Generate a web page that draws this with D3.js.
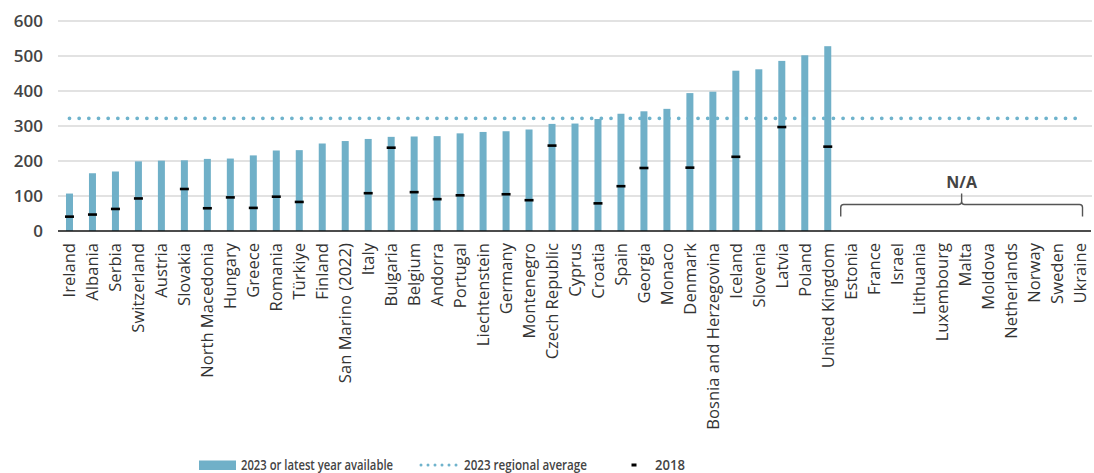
<!DOCTYPE html>
<html>
<head>
<meta charset="utf-8">
<script src="https://cdn.jsdelivr.net/npm/d3@7"></script>
<style>
  html, body { margin: 0; padding: 0; background: #fff; }
  svg { display: block; }
  text { font-family: "Open Sans", "Noto Sans", sans-serif; }
</style>
</head>
<body>
<svg id="chart" width="1094" height="473"></svg>
<script>
const categories = ["Ireland","Albania","Serbia","Switzerland","Austria","Slovakia","North Macedonia","Hungary","Greece","Romania","Türkiye","Finland","San Marino (2022)","Italy","Bulgaria","Belgium","Andorra","Portugal","Liechtenstein","Germany","Montenegro","Czech Republic","Cyprus","Croatia","Spain","Georgia","Monaco","Denmark","Bosnia and Herzegovina","Iceland","Slovenia","Latvia","Poland","United Kingdom","Estonia","France","Israel","Lithuania","Luxembourg","Malta","Moldova","Netherlands","Norway","Sweden","Ukraine"];
const values2023 = [107,165,170,199,201,202,206,207,216,230,231,250,257,263,269,270,271,279,283,285,290,306,307,320,335,342,349,394,398,458,462,486,502,528,null,null,null,null,null,null,null,null,null,null,null];
const values2018 = [41,47,63,93,null,120,65,96,66,98,83,null,null,108,238,111,91,102,null,105,88,244,null,79,128,180,null,181,null,212,null,297,null,241,null,null,null,null,null,null,null,null,null,null,null];
const regionalAverage = 322;
const yTicks = [0,100,200,300,400,500,600];
const naCategories = ["Estonia","Ukraine"];
const naLabel = "N/A";
const legendLabels = ["2023 or latest year available","2023 regional average","2018"];

const barColor = "#70b0c8";
const dotColor = "#6fb3cc";
const svg = d3.select("#chart");

const x = d3.scaleBand().domain(categories).range([58, 1092]).padding(0);
const y = d3.scaleLinear().domain([0, 600]).range([231, 21]);
const cx = d => x(d) + x.bandwidth() / 2;
const barW = 7;

// gridlines
svg.append("g").selectAll("line").data(yTicks.filter(t => t > 0)).join("line")
  .attr("x1", 58).attr("x2", 1092)
  .attr("y1", d => y(d)).attr("y2", d => y(d))
  .attr("stroke", "#d9d9d9").attr("stroke-width", 1.6);

// y axis labels
const yAxis = svg.append("g").attr("transform", "translate(58,0)")
  .call(d3.axisLeft(y).tickValues(yTicks).tickSize(0).tickPadding(15));
yAxis.select(".domain").remove();
yAxis.selectAll("text")
  .style("font-family", "'Open Sans', sans-serif")
  .style("font-size", "17px").style("font-weight", 600).attr("fill", "#444");

// bars
const data = categories.map((c, i) => ({ c, v: values2023[i], o: values2018[i] }));
svg.append("g").selectAll("rect").data(data.filter(d => d.v != null)).join("rect")
  .attr("x", d => cx(d.c) - barW / 2)
  .attr("width", barW)
  .attr("y", d => y(d.v))
  .attr("height", d => y(0) - y(d.v))
  .attr("fill", barColor);

// regional average dotted line
svg.append("line")
  .attr("x1", cx(categories[0])).attr("x2", cx(categories[categories.length - 1]) - 4)
  .attr("y1", y(regionalAverage)).attr("y2", y(regionalAverage))
  .attr("stroke", dotColor).attr("stroke-width", 3.8)
  .attr("stroke-linecap", "round").attr("stroke-dasharray", "0 9.67");

// 2018 markers
svg.append("g").selectAll("rect").data(data.filter(d => d.o != null)).join("rect")
  .attr("x", d => cx(d.c) - 4.5)
  .attr("width", 9)
  .attr("y", d => y(d.o) - 1.3)
  .attr("height", 2.6)
  .attr("fill", "#000");

// x axis
const xAxis = svg.append("g").attr("transform", "translate(0,231)")
  .call(d3.axisBottom(x).tickSize(0));
xAxis.select(".domain").remove();
xAxis.selectAll("text")
  .attr("transform", "rotate(-90)")
  .attr("x", -12).attr("y", 0).attr("dy", "0.35em")
  .attr("text-anchor", "end")
  .style("font-family", "'Open Sans', sans-serif")
  .style("font-size", "16.6px").attr("fill", "#333");

svg.append("line").attr("x1", 58).attr("x2", 1091).attr("y1", y(0)).attr("y2", y(0))
  .attr("stroke", "#111").attr("stroke-width", 1.6);

// N/A brace
const bx1 = cx(naCategories[0]) - 10, bx2 = cx(naCategories[1]) + 2;
const bm = (bx1 + bx2) / 2, by = 204.5;
svg.append("path")
  .attr("d", `M${bx1},216.5 L${bx1},${by + 3} Q${bx1},${by} ${bx1 + 3},${by} L${bm - 3},${by} Q${bm},${by} ${bm},${by - 3} L${bm},${by - 11} M${bm},${by - 3} Q${bm},${by} ${bm + 3},${by} L${bx2 - 3},${by} Q${bx2},${by} ${bx2},${by + 3} L${bx2},216.5`)
  .attr("fill", "none").attr("stroke", "#555").attr("stroke-width", 1.4);
svg.append("text").attr("x", bm).attr("y", 188).attr("text-anchor", "middle")
  .style("font-size", "16px").style("font-weight", 700).attr("fill", "#444").text(naLabel);

// legend
const lg = svg.append("g");
lg.append("rect").attr("x", 199).attr("y", 460.5).attr("width", 37).attr("height", 9.5).attr("fill", barColor);
lg.append("text").attr("x", 241).attr("y", 469.5).text(legendLabels[0])
  .attr("textLength", 152).attr("lengthAdjust", "spacingAndGlyphs");
lg.append("line").attr("x1", 421).attr("x2", 456.5).attr("y1", 465).attr("y2", 465)
  .attr("stroke", dotColor).attr("stroke-width", 3).attr("stroke-linecap", "round").attr("stroke-dasharray", "0 7");
lg.append("text").attr("x", 464).attr("y", 469.5).text(legendLabels[1])
  .attr("textLength", 123).attr("lengthAdjust", "spacingAndGlyphs");
lg.append("rect").attr("x", 631.5).attr("y", 463.5).attr("width", 5).attr("height", 3).attr("fill", "#000");
lg.append("text").attr("x", 655).attr("y", 469.5).text(legendLabels[2])
  .attr("textLength", 30).attr("lengthAdjust", "spacingAndGlyphs");
lg.selectAll("text").style("font-size", "13.5px").style("font-weight", 600).attr("fill", "#444");
</script>
</body>
</html>
